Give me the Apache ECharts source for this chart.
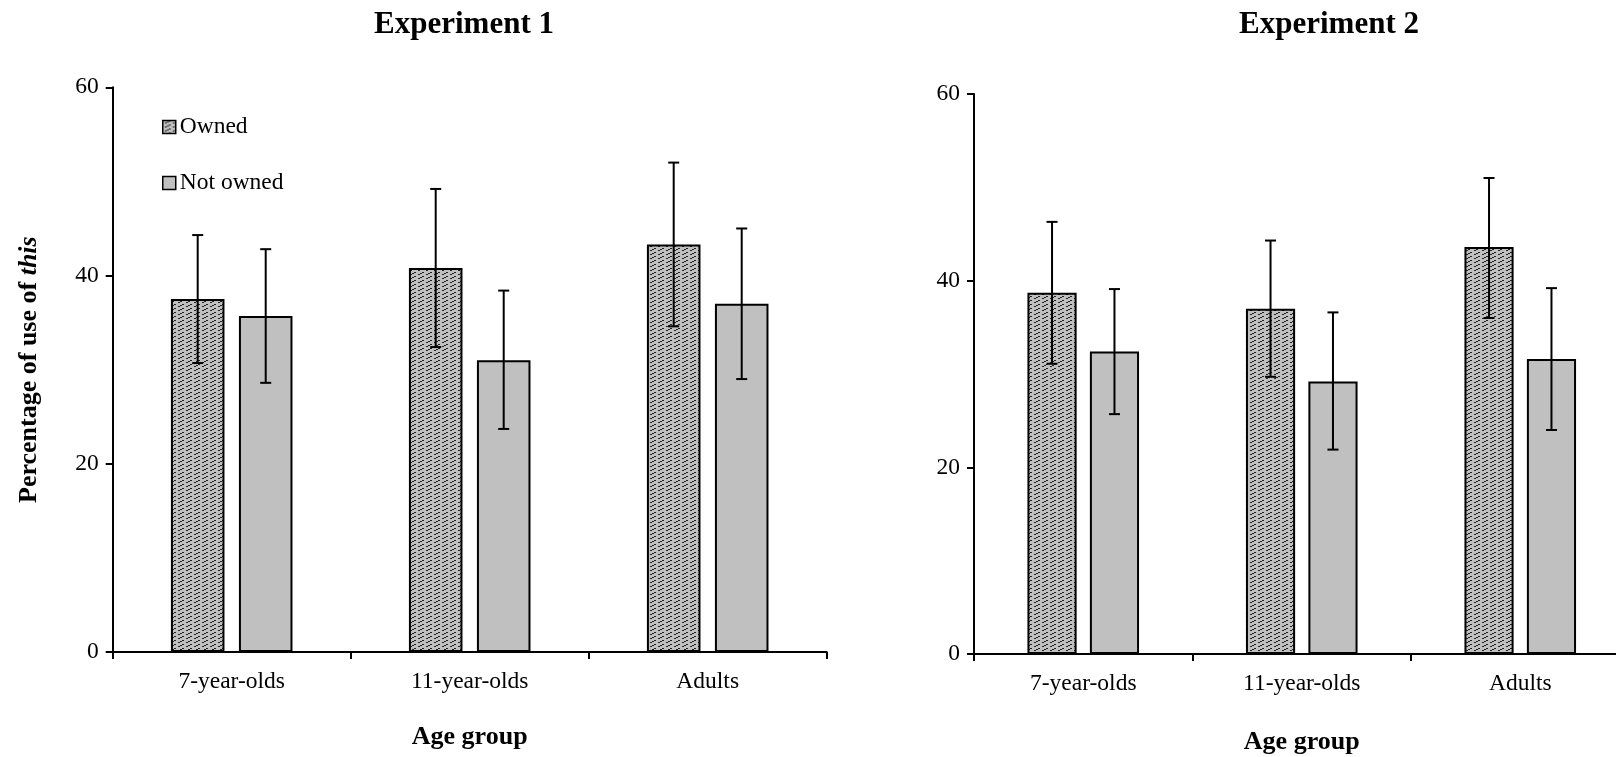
<!DOCTYPE html>
<html>
<head>
<meta charset="utf-8">
<script src="https://cdn.jsdelivr.net/npm/echarts@6/dist/echarts.min.js"></script>
<style>
html,body{margin:0;padding:0;background:#fff;}
#c{width:1616px;height:757px;}
</style>
</head>
<body>
<div id="c"></div>
<script>
// ---------- data ----------
const categories = ['7-year-olds', '11-year-olds', 'Adults'];
const seriesNames = ['Owned', 'Not owned'];
const yTicks = [0, 20, 40, 60];

const exp1Owned = [37.5, 40.8, 43.3];
const exp1OwnedLow = [30.7, 32.4, 34.6];
const exp1OwnedHigh = [44.3, 49.2, 52.0];
const exp1NotOwned = [35.7, 31.0, 37.0];
const exp1NotOwnedLow = [28.6, 23.7, 29.0];
const exp1NotOwnedHigh = [42.8, 38.4, 45.0];

const exp2Owned = [38.7, 37.0, 43.6];
const exp2OwnedLow = [31.1, 29.7, 36.0];
const exp2OwnedHigh = [46.3, 44.3, 51.0];
const exp2NotOwned = [32.4, 29.2, 31.6];
const exp2NotOwnedLow = [25.7, 21.9, 24.0];
const exp2NotOwnedHigh = [39.1, 36.6, 39.2];

// ---------- styles ----------
const FONT = "'Liberation Serif', 'Times New Roman', serif";
const BAR_W = 0.225;   // fraction of band
const BAR_GAP = 0.27;  // fraction of bar width
const GRAY = '#c0c0c0';
const LABEL_SIZE = 23.5;

function makePattern() {
  const s = 8;
  const cv = document.createElement('canvas');
  cv.width = s; cv.height = s;
  const ctx = cv.getContext('2d');
  ctx.fillStyle = '#c0c0c0';
  ctx.fillRect(0, 0, s, s);
  ctx.fillStyle = '#222';
  for (let y = 0; y < s; y++) {
    if (y % 4 === 3) continue;
    ctx.fillRect((2 * (7 - y)) % s, y, 2, 1);
  }
  return cv;
}
const pattern = { image: makePattern(), repeat: 'repeat' };

function errorSeries(gridIdx, low, high, sign) {
  const data = categories.map((c, i) => [i, low[i], high[i]]);
  return {
    type: 'custom',
    xAxisIndex: gridIdx, yAxisIndex: gridIdx,
    silent: true, z: 10,
    data: data,
    renderItem: function (params, api) {
      const idx = api.value(0);
      const band = api.size([1, 0])[0];
      const off = sign * band * (BAR_W + BAR_W * BAR_GAP) / 2;
      const pLow = api.coord([idx, api.value(1)]);
      const pHigh = api.coord([idx, api.value(2)]);
      const x = pLow[0] + off;
      const cap = 5.5;
      const st = { stroke: '#000', lineWidth: 2 };
      return {
        type: 'group',
        children: [
          { type: 'line', shape: { x1: x, y1: pLow[1], x2: x, y2: pHigh[1] }, style: st },
          { type: 'line', shape: { x1: x - cap, y1: pHigh[1], x2: x + cap, y2: pHigh[1] }, style: st },
          { type: 'line', shape: { x1: x - cap, y1: pLow[1], x2: x + cap, y2: pLow[1] }, style: st }
        ]
      };
    }
  };
}

function barSeries(gridIdx, name, values, color) {
  return {
    type: 'bar', name: name,
    xAxisIndex: gridIdx, yAxisIndex: gridIdx,
    data: values,
    barWidth: (BAR_W * 100) + '%',
    barGap: (BAR_GAP * 100) + '%',
    itemStyle: { color: color, borderColor: '#000', borderWidth: 2 },
    emphasis: { disabled: true },
    animation: false
  };
}

function xAxisCfg(gridIdx, gap) {
  return {
    type: 'category', gridIndex: gridIdx, data: categories,
    name: 'Age group', nameLocation: 'middle', nameGap: gap,
    nameTextStyle: { fontFamily: FONT, fontSize: 26, fontWeight: 'bold', color: '#000' },
    axisLine: { lineStyle: { color: '#000', width: 2 } },
    axisTick: { show: true, length: 7, lineStyle: { color: '#000', width: 2 } },
    axisLabel: { fontFamily: FONT, fontSize: LABEL_SIZE, color: '#000', margin: 18 },
    splitLine: { show: false }
  };
}

function yAxisCfg(gridIdx, withName) {
  const cfg = {
    type: 'value', gridIndex: gridIdx, min: yTicks[0], max: yTicks[yTicks.length - 1],
    interval: yTicks[1] - yTicks[0],
    axisLine: { show: true, lineStyle: { color: '#000', width: 2 } },
    axisTick: { show: true, length: 7, lineStyle: { color: '#000', width: 2 } },
    axisLabel: { fontFamily: FONT, fontSize: LABEL_SIZE, color: '#000', margin: 14 },
    splitLine: { show: false }
  };
  if (withName) {
    cfg.name = 'Percentage of use of {i|this}';
    cfg.nameLocation = 'middle';
    cfg.nameRotate = 90;
    cfg.nameGap = 70;
    cfg.nameTextStyle = {
      fontFamily: FONT, fontSize: 26, fontWeight: 'bold', color: '#000',
      rich: { i: { fontFamily: FONT, fontSize: 26, fontWeight: 'bold', fontStyle: 'italic', color: '#000' } }
    };
  }
  return cfg;
}

const chart = echarts.init(document.getElementById('c'), null, { renderer: 'canvas' });
chart.setOption({
  animation: false,
  backgroundColor: '#fff',
  title: [
    { text: 'Experiment 1', left: 464, top: 9, textAlign: 'center', padding: 0,
      textStyle: { fontFamily: FONT, fontSize: 31, fontWeight: 'bold', color: '#000' } },
    { text: 'Experiment 2', left: 1329, top: 9, textAlign: 'center', padding: 0,
      textStyle: { fontFamily: FONT, fontSize: 31, fontWeight: 'bold', color: '#000' } }
  ],
  legend: {
    data: seriesNames, orient: 'vertical', left: 162, top: 115,
    itemWidth: 13, itemHeight: 13, itemGap: 32, padding: 0,
    icon: 'rect',
    itemStyle: { borderColor: '#000', borderWidth: 1.5 },
    textStyle: { fontFamily: FONT, fontSize: 23.5, color: '#000', lineHeight: 23, padding: [0, 0, 0, -1] },
    selectedMode: false
  },
  grid: [
    { left: 112.7, top: 87.3, width: 714, height: 564.7, containLabel: false, outerBoundsMode: 'none' },
    { left: 974, top: 94, width: 655.5, height: 560, containLabel: false, outerBoundsMode: 'none' }
  ],
  xAxis: [xAxisCfg(0, 72), xAxisCfg(1, 75)],
  yAxis: [yAxisCfg(0, true), yAxisCfg(1, false)],
  series: [
    barSeries(0, seriesNames[0], exp1Owned, pattern),
    barSeries(0, seriesNames[1], exp1NotOwned, GRAY),
    errorSeries(0, exp1OwnedLow, exp1OwnedHigh, -1),
    errorSeries(0, exp1NotOwnedLow, exp1NotOwnedHigh, 1),
    barSeries(1, seriesNames[0], exp2Owned, pattern),
    barSeries(1, seriesNames[1], exp2NotOwned, GRAY),
    errorSeries(1, exp2OwnedLow, exp2OwnedHigh, -1),
    errorSeries(1, exp2NotOwnedLow, exp2NotOwnedHigh, 1)
  ]
});
</script>
</body>
</html>
